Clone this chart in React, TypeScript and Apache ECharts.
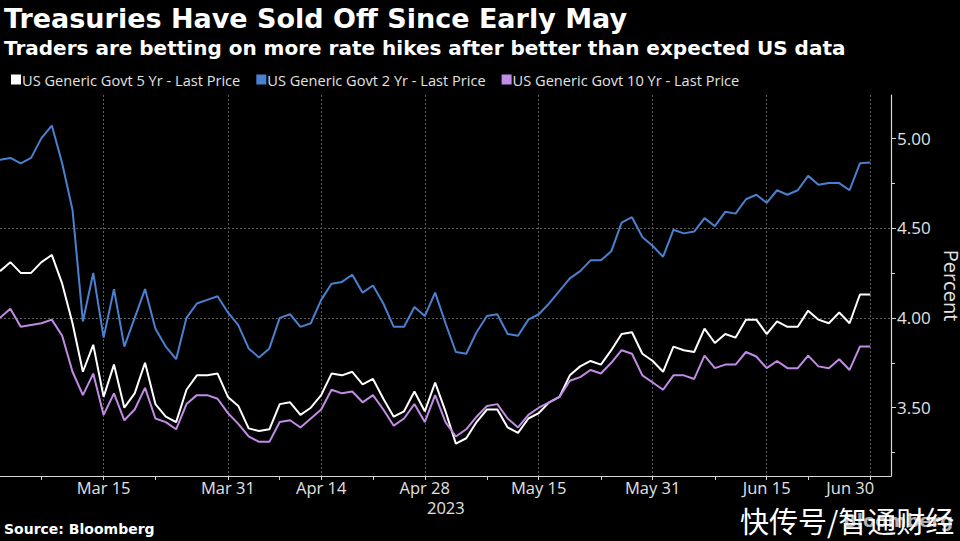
import React, { useEffect, useRef } from "react";
import * as echarts from "echarts";

// Trading days shown on the category axis
const dates = [
  "Mar 1", "Mar 2", "Mar 3", "Mar 6", "Mar 7", "Mar 8", "Mar 9", "Mar 10", "Mar 13", "Mar 14",
  "Mar 15", "Mar 16", "Mar 17", "Mar 20", "Mar 21", "Mar 22", "Mar 23", "Mar 24", "Mar 27", "Mar 28",
  "Mar 29", "Mar 30", "Mar 31",
  "Apr 3", "Apr 4", "Apr 5", "Apr 6", "Apr 10", "Apr 11", "Apr 12", "Apr 13", "Apr 14", "Apr 17",
  "Apr 18", "Apr 19", "Apr 20", "Apr 21", "Apr 24", "Apr 25", "Apr 26", "Apr 27", "Apr 28",
  "May 1", "May 2", "May 3", "May 4", "May 5", "May 8", "May 9", "May 10", "May 11", "May 12",
  "May 15", "May 16", "May 17", "May 18", "May 19", "May 22", "May 23", "May 24", "May 25", "May 26",
  "May 30", "May 31",
  "Jun 1", "Jun 2", "Jun 5", "Jun 6", "Jun 7", "Jun 8", "Jun 9", "Jun 12", "Jun 13", "Jun 14",
  "Jun 15", "Jun 16", "Jun 20", "Jun 21", "Jun 22", "Jun 23", "Jun 26", "Jun 27", "Jun 28", "Jun 29",
  "Jun 30",
];
// Empty trailing slots (no data) that pad the axis out to the right edge
const padDates = ["Jul 3", "Jul 5"];

const majorTicks = ["Mar 15", "Mar 31", "Apr 14", "Apr 28", "May 15", "May 31", "Jun 15", "Jun 30"];
const minorTicks = ["Mar 7", "Mar 22", "Apr 10", "Apr 21", "May 8", "May 23", "Jun 8", "Jun 22"];
const yTickValues = [3.5, 4.0, 4.5, 5.0];

const yield5y = [
  4.26, 4.31, 4.25, 4.25, 4.31, 4.35, 4.19, 3.97, 3.70, 3.85,
  3.56, 3.74, 3.50, 3.58, 3.75, 3.52, 3.45, 3.42, 3.60, 3.68,
  3.68, 3.69, 3.56, 3.51, 3.385, 3.37, 3.38, 3.52, 3.53, 3.46,
  3.50, 3.57, 3.69, 3.68, 3.70, 3.63, 3.66, 3.55, 3.45, 3.48,
  3.59, 3.48, 3.64, 3.48, 3.30, 3.33, 3.42, 3.49, 3.49, 3.39,
  3.36, 3.44, 3.47, 3.53, 3.56, 3.68, 3.73, 3.76, 3.74, 3.82,
  3.91, 3.92, 3.80, 3.76, 3.70, 3.84, 3.82, 3.81, 3.94, 3.86,
  3.91, 3.89, 3.99, 3.99, 3.91, 3.98, 3.95, 3.95, 4.04, 3.99,
  3.97, 4.03, 3.97, 4.13, 4.13,
];

const yield2y = [
  4.88, 4.89, 4.86, 4.89, 5.00, 5.07, 4.86, 4.60, 3.98, 4.25,
  3.89, 4.16, 3.84, 4.00, 4.16, 3.94, 3.84, 3.77, 4.00, 4.08,
  4.10, 4.12, 4.03, 3.96, 3.83, 3.78, 3.83, 4.00, 4.02, 3.95,
  3.97, 4.10, 4.19, 4.20, 4.24, 4.14, 4.18, 4.08, 3.95, 3.95,
  4.06, 4.01, 4.14, 3.97, 3.81, 3.80, 3.92, 4.01, 4.02, 3.91,
  3.90, 3.99, 4.02, 4.08, 4.15, 4.22, 4.26, 4.32, 4.32, 4.37,
  4.53, 4.56, 4.45, 4.40, 4.34, 4.49, 4.47, 4.48, 4.555, 4.51,
  4.59, 4.58, 4.66, 4.685, 4.64, 4.71, 4.685, 4.71, 4.79, 4.74,
  4.75, 4.75, 4.71, 4.86, 4.865,
];

const yield10y = [
  4.00, 4.05, 3.95, 3.96, 3.97, 3.99, 3.90, 3.70, 3.57, 3.69,
  3.46, 3.58, 3.43, 3.49, 3.61, 3.44, 3.42, 3.38, 3.52, 3.57,
  3.57, 3.55, 3.47, 3.41, 3.34, 3.31, 3.31, 3.42, 3.43, 3.39,
  3.44, 3.49, 3.60, 3.58, 3.59, 3.53, 3.57, 3.49, 3.40, 3.44,
  3.52, 3.42, 3.57, 3.42, 3.34, 3.38, 3.45, 3.51, 3.52, 3.44,
  3.39, 3.46, 3.50, 3.53, 3.56, 3.65, 3.67, 3.71, 3.69, 3.75,
  3.82, 3.80, 3.68, 3.64, 3.60, 3.68, 3.68, 3.66, 3.79, 3.72,
  3.74, 3.74, 3.81, 3.785, 3.72, 3.76, 3.72, 3.72, 3.79, 3.73,
  3.72, 3.77, 3.71, 3.84, 3.84,
];

const seriesNames = [
  "US Generic Govt 5 Yr - Last Price",
  "US Generic Govt 2 Yr - Last Price",
  "US Generic Govt 10 Yr - Last Price",
];
const seriesColors = ["#ffffff", "#4a80d0", "#c28be6"];

const titleText = "Treasuries Have Sold Off Since Early May";
const subtitleText = "Traders are betting on more rate hikes after better than expected US data";
const sourceText = "Source: Bloomberg";
const yearText = "2023";
const yAxisName = "Percent";
const watermarkText = "快传号/智通财经";

const labelFont = "'Open Sans', 'Noto Sans', sans-serif";
const boldFont = "'DejaVu Sans', Verdana, sans-serif";
const axisColor = "#d6d6d6";
const gridColor = "#5e5e5e";
const labelColor = "#e2e2e2";

export default function App() {
  const ref = useRef<HTMLDivElement>(null);

  useEffect(() => {
    if (!ref.current) return;
    const chart = echarts.init(ref.current, null, { renderer: "svg" });
    const seriesData = [yield5y, yield2y, yield10y];

    chart.setOption({
      animation: false,
      backgroundColor: "#000000",
      grid: { left: 0, right: 69, top: 95, bottom: 65, containLabel: false, outerBoundsMode: "none" },
      legend: {
        data: seriesNames,
        left: 6,
        top: 67,
        icon: "rect",
        itemWidth: 10,
        itemHeight: 10,
        itemGap: 16,
        textStyle: { color: labelColor, fontSize: 14.6, fontFamily: labelFont, padding: [0, 0, 0, -4] },
      },
      xAxis: {
        type: "category",
        data: [...dates, ...padDates],
        boundaryGap: false,
        axisLine: { show: true, lineStyle: { color: axisColor, width: 1.2 } },
        axisTick: {
          show: true,
          length: 4,
          interval: (_i: number, v: string) => majorTicks.includes(v) || minorTicks.includes(v),
          lineStyle: { color: axisColor },
        },
        axisLabel: {
          interval: (_i: number, v: string) => majorTicks.includes(v),
          color: labelColor,
          fontSize: 16.5,
          fontFamily: labelFont,
          margin: 3,
          formatter: (v: string) => (v === "Jun 30" ? "{r|" + v + "}" : v),
          rich: {
            r: { padding: [0, 40, 0, 0], color: labelColor, fontSize: 16.5, fontFamily: labelFont },
          },
        },
        splitLine: {
          show: true,
          interval: (_i: number, v: string) => majorTicks.includes(v),
          lineStyle: { color: gridColor, type: [2, 2], width: 1 },
        },
      },
      yAxis: {
        type: "value",
        position: "right",
        min: 3.12,
        max: 5.24,
        splitNumber: 4,
        name: yAxisName,
        nameLocation: "middle",
        nameRotate: -90,
        nameGap: 41,
        nameTextStyle: { color: labelColor, fontSize: 20, fontFamily: labelFont },
        axisLine: { show: true, lineStyle: { color: axisColor, width: 1.2 } },
        axisTick: { show: true, length: 5, customValues: yTickValues, lineStyle: { color: axisColor } },
        minorTick: { show: true, splitNumber: 2, length: 4, lineStyle: { color: axisColor } },
        axisLabel: {
          customValues: yTickValues,
          formatter: (v: number) => v.toFixed(2),
          color: labelColor,
          fontSize: 17,
          fontFamily: labelFont,
          margin: 6,
        },
        splitLine: {
          show: true,
          showMinLine: false,
          showMaxLine: false,
          lineStyle: { color: gridColor, type: [2, 2], width: 1 },
        },
        minorSplitLine: { show: false },
      },
      series: seriesNames.map((name, k) => ({
        name,
        type: "line",
        data: seriesData[k],
        symbol: "none",
        smooth: false,
        lineStyle: { width: 2, color: seriesColors[k] },
        itemStyle: { color: seriesColors[k] },
        z: 3 + k,
      })),
      graphic: [
        {
          type: "text",
          left: 4,
          top: 5,
          style: { text: titleText, fill: "#ffffff", font: `bold 27px ${boldFont}` },
        },
        {
          type: "text",
          left: 4,
          top: 38,
          style: { text: subtitleText, fill: "#ffffff", font: `bold 20px ${boldFont}` },
        },
        {
          type: "text",
          left: 4,
          top: 522,
          style: { text: sourceText, fill: "#ffffff", font: `bold 14px ${boldFont}` },
        },
        {
          type: "text",
          left: 427,
          top: 499,
          style: { text: yearText, fill: labelColor, font: `16.5px ${labelFont}` },
        },
        {
          type: "text",
          left: 843,
          top: 511,
          style: { text: "Bloomberg", fill: "#b0b0b0", font: `bold 18px ${boldFont}` },
        },
        {
          type: "text",
          left: 740,
          top: 505,
          style: { text: watermarkText, fill: "#ffffff", font: `29px 'Noto Sans CJK SC', sans-serif` },
        },
      ],
    });

    return () => chart.dispose();
  }, []);

  return (
    <div
      ref={ref}
      style={{ position: "fixed", left: 0, top: 0, width: 960, height: 541, background: "#000" }}
    />
  );
}
